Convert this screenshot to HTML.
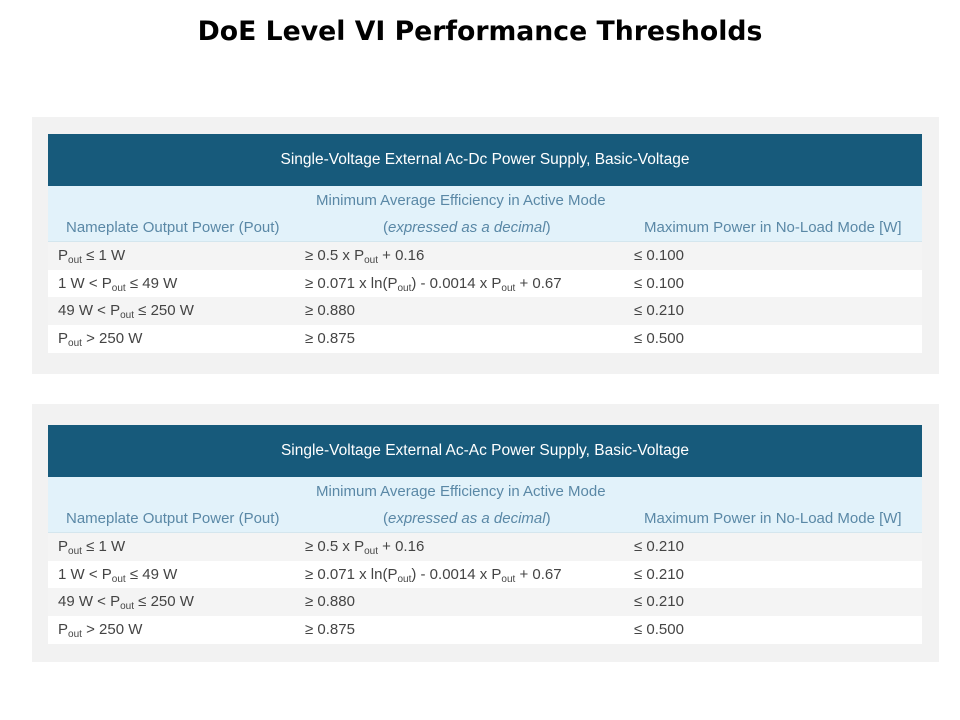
<!DOCTYPE html>
<html><head><meta charset="utf-8"><style>
*{margin:0;padding:0;box-sizing:border-box}
body{width:960px;height:720px;background:#fff;position:relative;font-family:"Liberation Sans",sans-serif;overflow:hidden}
h1{position:absolute;top:16px;left:0;width:960px;text-align:center;font-family:"DejaVu Sans",sans-serif;font-size:26.7px;font-weight:bold;color:#000}
.panel{position:absolute;left:32px;width:907px;background:#f2f2f2}
.tbl{position:absolute;left:16px;width:874px;top:17px}
.hd{height:52px;background:#175a7b;color:#fff;font-size:15.5px;text-align:center;line-height:52px}
.sh{height:56px;background:#e2f2fa;position:relative;color:#5a88a6;font-size:15px;border-bottom:1px solid #d4e6ee}
.sh span{position:absolute;white-space:nowrap}
.r{height:27.7px;position:relative;font-size:15px;color:#444;line-height:27px}
.r span{position:absolute;white-space:nowrap}
.g{background:#f4f4f4}.w{background:#fff}
sub{font-size:10px;vertical-align:-3px}
.c1{left:10px}.c2{left:257px}.c3{left:586px}
</style></head><body>
<h1>DoE Level VI Performance Thresholds</h1>

<div class="panel" style="top:117px;height:257px">
<div class="tbl">
<div class="hd">Single-Voltage External Ac-Dc Power Supply, Basic-Voltage</div>
<div class="sh">
<span style="left:268px;top:6px">Minimum Average Efficiency in Active Mode</span>
<span style="left:18px;top:33px">Nameplate Output Power (Pout)</span>
<span style="left:335px;top:33px">(<i>expressed as a decimal</i>)</span>
<span style="left:596px;top:33px">Maximum Power in No-Load Mode [W]</span>
</div>
<div class="r g"><span class="c1">P<sub>out</sub> ≤ 1 W</span><span class="c2">≥ 0.5 x P<sub>out</sub> + 0.16</span><span class="c3">≤ 0.100</span></div>
<div class="r w"><span class="c1">1 W &lt; P<sub>out</sub> ≤ 49 W</span><span class="c2">≥ 0.071 x ln(P<sub>out</sub>) - 0.0014 x P<sub>out</sub> + 0.67</span><span class="c3">≤ 0.100</span></div>
<div class="r g"><span class="c1">49 W &lt; P<sub>out</sub> ≤ 250 W</span><span class="c2">≥ 0.880</span><span class="c3">≤ 0.210</span></div>
<div class="r w"><span class="c1">P<sub>out</sub> &gt; 250 W</span><span class="c2">≥ 0.875</span><span class="c3">≤ 0.500</span></div>
</div>
</div>

<div class="panel" style="top:404px;height:258px">
<div class="tbl" style="top:21px">
<div class="hd">Single-Voltage External Ac-Ac Power Supply, Basic-Voltage</div>
<div class="sh">
<span style="left:268px;top:6px">Minimum Average Efficiency in Active Mode</span>
<span style="left:18px;top:33px">Nameplate Output Power (Pout)</span>
<span style="left:335px;top:33px">(<i>expressed as a decimal</i>)</span>
<span style="left:596px;top:33px">Maximum Power in No-Load Mode [W]</span>
</div>
<div class="r g"><span class="c1">P<sub>out</sub> ≤ 1 W</span><span class="c2">≥ 0.5 x P<sub>out</sub> + 0.16</span><span class="c3">≤ 0.210</span></div>
<div class="r w"><span class="c1">1 W &lt; P<sub>out</sub> ≤ 49 W</span><span class="c2">≥ 0.071 x ln(P<sub>out</sub>) - 0.0014 x P<sub>out</sub> + 0.67</span><span class="c3">≤ 0.210</span></div>
<div class="r g"><span class="c1">49 W &lt; P<sub>out</sub> ≤ 250 W</span><span class="c2">≥ 0.880</span><span class="c3">≤ 0.210</span></div>
<div class="r w"><span class="c1">P<sub>out</sub> &gt; 250 W</span><span class="c2">≥ 0.875</span><span class="c3">≤ 0.500</span></div>
</div>
</div>
</body></html>
